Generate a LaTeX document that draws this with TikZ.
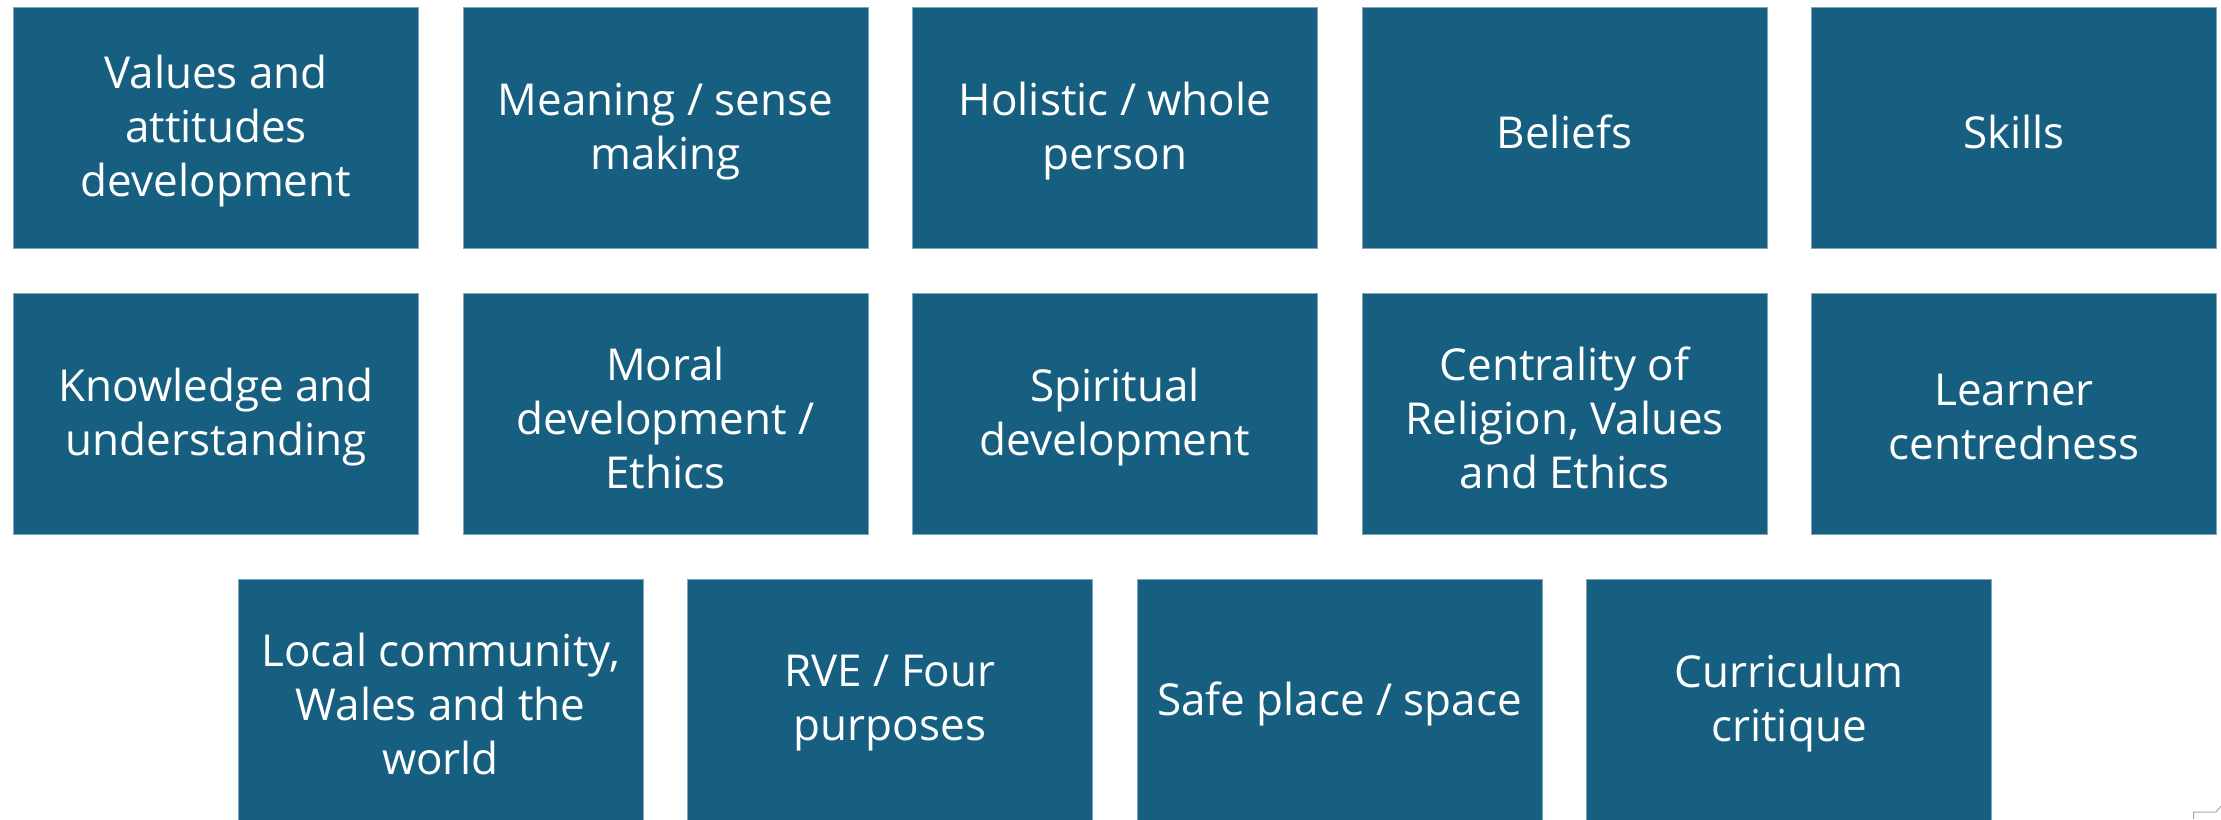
\documentclass[tikz,border=0pt]{standalone}
\usepackage{fontspec}
\setmainfont{Open Sans}
\definecolor{boxfill}{HTML}{175F80}
\definecolor{boxedge}{HTML}{7FA6BC}
\begin{document}
\begin{tikzpicture}[x=1pt,y=-1pt,
  card/.style={rectangle, fill=boxfill, draw=boxedge, line width=0.8pt,
    minimum width=405pt, minimum height=241pt, inner sep=0pt},
  cardtext/.style={text=white, align=center, inner sep=0pt, yshift=-4pt,
    font=\fontsize{44pt}{54pt}\selectfont}]
\useasboundingbox (0,0) rectangle (2221,819);
% row 1
\node[card, label={[cardtext]center:Values and\\attitudes\\development}] (n1) at (216,127.5) {};
\node[card, label={[cardtext]center:Meaning / sense\\making}] (n2) at (665.5,127.5) {};
\node[card, label={[cardtext]center:Holistic / whole\\person}] (n3) at (1115,127.5) {};
\node[card, label={[cardtext]center:Beliefs}] (n4) at (1564.5,127.5) {};
\node[card, label={[cardtext]center:Skills}] (n5) at (2014,127.5) {};
% row 2
\node[card, label={[cardtext]center:Knowledge and\\understanding}] (n6) at (216,413.5) {};
\node[card, label={[cardtext]center:Moral\\development /\\Ethics}] (n7) at (665.5,413.5) {};
\node[card, label={[cardtext]center:Spiritual\\development}] (n8) at (1115,413.5) {};
\node[card, label={[cardtext]center:Centrality of\\Religion, Values\\and Ethics}] (n9) at (1564.5,413.5) {};
\node[card, label={[cardtext]center:Learner\\centredness}] (n10) at (2014,413.5) {};
% row 3
\node[card, label={[cardtext]center:Local community,\\Wales and the\\world}] (n11) at (440.5,699.5) {};
\node[card, label={[cardtext]center:RVE / Four\\purposes}] (n12) at (890,699.5) {};
\node[card, label={[cardtext]center:Safe place / space}] (n13) at (1339.5,699.5) {};
\node[card, label={[cardtext]center:Curriculum\\critique}] (n14) at (1789,699.5) {};
% small grey fragment at bottom right
\draw[gray!70, line width=1pt] (2193.5,819) -- (2193.5,812) -- (2216,812) -- (2221,806);
\end{tikzpicture}
\end{document}
